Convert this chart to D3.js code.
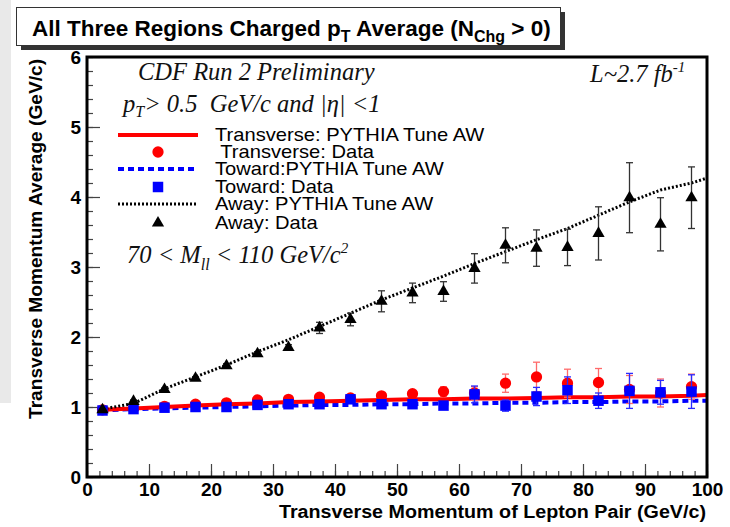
<!DOCTYPE html>
<html>
<head>
<meta charset="utf-8">
<script src="https://cdn.jsdelivr.net/npm/d3@7"></script>
<style>
    body { margin: 0; background: #fff; }
    svg { display: block; font-family: "Liberation Sans", Arial, sans-serif; }
    .axis path.domain { display: none; }
    .axis .tick line { stroke: #444; stroke-width: 1.2; }
    .axis text { font-weight: bold; font-size: 19px; fill: #000; font-family: "Liberation Sans", Arial, sans-serif; }
    .ital { font-family: "Liberation Serif", "Times New Roman", serif; font-style: italic; font-size: 24.5px; fill: #111; white-space: pre; }
    .leg { font-size: 19px; fill: #000; white-space: pre; }
</style>
</head>
<body>
<svg id="graph" width="730" height="527"></svg>
<script>
// bin centres (GeV/c)
var ptBins = [2.5, 7.5, 12.5, 17.5, 22.5, 27.5, 32.5, 37.5, 42.5, 47.5,
    52.5, 57.5, 62.5, 67.5, 72.5, 77.5, 82.5, 87.5, 92.5, 97.5];

// data points
var transData = [0.96, 0.98, 1.01, 1.04, 1.06, 1.10, 1.11, 1.14, 1.13, 1.16,
    1.19, 1.22, 1.20, 1.34, 1.43, 1.34, 1.35, 1.25, 1.20, 1.29];
var transErr = [0.01, 0.01, 0.01, 0.015, 0.015, 0.02, 0.02, 0.025, 0.03, 0.035,
    0.04, 0.07, 0.09, 0.13, 0.21, 0.20, 0.20, 0.20, 0.20, 0.18];
var towardData = [0.95, 0.97, 0.99, 1.00, 1.00, 1.03, 1.04, 1.04, 1.11, 1.04,
    1.04, 1.02, 1.18, 1.02, 1.15, 1.24, 1.09, 1.23, 1.21, 1.22];
var towardErr = [0.01, 0.01, 0.01, 0.015, 0.015, 0.02, 0.02, 0.025, 0.03, 0.05,
    0.04, 0.04, 0.12, 0.08, 0.13, 0.19, 0.11, 0.25, 0.17, 0.24];
var awayData = [0.96, 1.08, 1.25, 1.41, 1.59, 1.76, 1.85, 2.13, 2.25, 2.51,
    2.63, 2.65, 2.98, 3.31, 3.27, 3.28, 3.48, 3.99, 3.61, 3.99];
var awayErr = [0.01, 0.02, 0.02, 0.02, 0.03, 0.03, 0.04, 0.08, 0.09, 0.15,
    0.14, 0.14, 0.21, 0.25, 0.26, 0.26, 0.38, 0.50, 0.38, 0.44];

// PYTHIA Tune AW curves
var modelX = [2.5, 7.5, 12.5, 17.5, 22.5, 27.5, 32.5, 37.5, 42.5, 47.5,
    52.5, 57.5, 62.5, 67.5, 72.5, 77.5, 82.5, 87.5, 92.5, 97.5, 100];
var transModel = [0.96, 0.98, 1.00, 1.02, 1.04, 1.05, 1.07, 1.08, 1.09, 1.10,
    1.11, 1.11, 1.12, 1.12, 1.13, 1.14, 1.14, 1.15, 1.15, 1.16, 1.17];
var towardModel = [0.95, 0.97, 0.98, 0.99, 1.00, 1.01, 1.02, 1.03, 1.03, 1.04,
    1.04, 1.05, 1.05, 1.06, 1.06, 1.07, 1.07, 1.08, 1.08, 1.09, 1.09];
var awayModel = [0.97, 1.05, 1.26, 1.43, 1.60, 1.79, 1.96, 2.15, 2.34, 2.53,
    2.70, 2.87, 3.05, 3.22, 3.39, 3.55, 3.74, 3.93, 4.10, 4.20, 4.27];

var xTicks = [0, 10, 20, 30, 40, 50, 60, 70, 80, 90, 100];
var yTicks = [0, 1, 2, 3, 4, 5, 6];

var legendLabels = ["Transverse: PYTHIA Tune AW", " Transverse: Data", "Toward:PYTHIA Tune AW",
    "Toward: Data", "Away: PYTHIA Tune AW", "Away: Data"];

var svg = d3.select("svg#graph");

var x = d3.scaleLinear().domain([0, 100]).range([87, 707]);
var y = d3.scaleLinear().domain([0, 6]).range([477, 57]);

// stretch a text to the width it has in the picture
function fitWidth(sel, w) {
    sel.attr("textLength", w).attr("lengthAdjust", "spacingAndGlyphs");
}

// grey strip at the left edge
svg.append("rect").attr("x", 0).attr("y", 0).attr("width", 11).attr("height", 403).attr("fill", "#e9e9e9");

// title box with shadow
svg.append("rect").attr("x", 21).attr("y", 12).attr("width", 544).attr("height", 38).attr("fill", "#333");
svg.append("rect").attr("x", 16.5).attr("y", 7.5).attr("width", 544).attr("height", 38)
    .attr("fill", "#fff").attr("stroke", "#333").attr("stroke-width", 1);
var title = svg.append("text").attr("x", 32).attr("y", 36)
    .style("font-weight", "bold").style("font-size", "22.5px");
title.append("tspan").text("All Three Regions Charged p");
title.append("tspan").attr("dy", 6).style("font-size", "16px").text("T");
title.append("tspan").attr("dy", -6).text(" Average (N");
title.append("tspan").attr("dy", 6).style("font-size", "16px").text("Chg");
title.append("tspan").attr("dy", -6).text(" > 0)");

// axes: major + minor ticks, inside the frame
svg.append("g").attr("class", "x axis")
    .attr("transform", "translate(0," + y(0) + ")")
    .call(d3.axisBottom(x).tickValues(xTicks).tickSize(-13).tickPadding(6));
svg.append("g").attr("class", "x axis minor")
    .attr("transform", "translate(0," + y(0) + ")")
    .call(d3.axisBottom(x).tickValues(d3.range(0, 101, 2)).tickSize(-6).tickFormat(""));
svg.append("g").attr("class", "y axis")
    .attr("transform", "translate(" + x(0) + ",0)")
    .call(d3.axisLeft(y).tickValues(yTicks).tickFormat(d3.format("d")).tickSize(-13).tickPadding(6));
svg.append("g").attr("class", "y axis minor")
    .attr("transform", "translate(" + x(0) + ",0)")
    .call(d3.axisLeft(y).tickValues(d3.range(0, 6.01, 0.2)).tickSize(-6).tickFormat(""));

// axis titles
svg.append("text").attr("x", 706).attr("y", 518).attr("text-anchor", "end")
    .style("font-weight", "bold").style("font-size", "18px")
    .text("Transverse Momentum of Lepton Pair (GeV/c)")
    .call(fitWidth, 427);
svg.append("text").attr("transform", "translate(42,59) rotate(-90)").attr("text-anchor", "end")
    .style("font-weight", "bold").style("font-size", "18px")
    .text("Transverse Momentum Average (GeV/c)")
    .call(fitWidth, 360);

// model curves
function curve(vals) {
    return d3.line()
        .x(function (d, i) { return x(modelX[i]); })
        .y(function (d) { return y(d); })(vals);
}
svg.append("path").attr("d", curve(towardModel)).attr("fill", "none")
    .attr("stroke", "#0000ff").attr("stroke-width", 4).attr("stroke-dasharray", "6,4");
svg.append("path").attr("d", curve(transModel)).attr("fill", "none")
    .attr("stroke", "#ff0000").attr("stroke-width", 4);
svg.append("path").attr("d", curve(awayModel)).attr("fill", "none")
    .attr("stroke", "#000").attr("stroke-width", 3).attr("stroke-dasharray", "2,2");

// data points with error bars
function points(vals, errs, errColor, symbol, size, color, cap) {
    var g = svg.append("g");
    var pts = g.selectAll("g").data(vals).enter().append("g");
    pts.append("line")
        .attr("x1", function (d, i) { return x(ptBins[i]); })
        .attr("x2", function (d, i) { return x(ptBins[i]); })
        .attr("y1", function (d, i) { return y(d - errs[i]); })
        .attr("y2", function (d, i) { return y(d + errs[i]); })
        .attr("stroke", errColor).attr("stroke-width", 1.3);
    [-1, 1].forEach(function (s) {
        pts.append("line")
            .attr("x1", function (d, i) { return x(ptBins[i]) - cap; })
            .attr("x2", function (d, i) { return x(ptBins[i]) + cap; })
            .attr("y1", function (d, i) { return y(d + s * errs[i]); })
            .attr("y2", function (d, i) { return y(d + s * errs[i]); })
            .attr("stroke", errColor).attr("stroke-width", 1.3);
    });
    pts.append("path")
        .attr("d", d3.symbol().type(symbol).size(size))
        .attr("transform", function (d, i) { return "translate(" + x(ptBins[i]) + "," + y(d) + ")"; })
        .attr("fill", color);
}
points(transData, transErr, "#ff6a6a", d3.symbolCircle, 100, "#ff0000", 3.5);
points(towardData, towardErr, "#2a2aff", d3.symbolSquare, 110, "#0000ff", 3.5);
points(awayData, awayErr, "#333", d3.symbolTriangle, 65, "#000", 3.5);

// frame
svg.append("rect").attr("x", x(0)).attr("y", y(6)).attr("width", x(100) - x(0)).attr("height", y(0) - y(6))
    .attr("fill", "none").attr("stroke", "#000").attr("stroke-width", 3);

// labels inside the plot
svg.append("text").attr("class", "ital").attr("x", 138).attr("y", 80).text("CDF Run 2 Preliminary");
var t2 = svg.append("text").attr("class", "ital").attr("x", 123).attr("y", 112);
t2.append("tspan").text("p");
t2.append("tspan").attr("dy", 5).style("font-size", "16px").text("T");
t2.append("tspan").attr("dy", -5).text("> 0.5  GeV/c and |η| <1");
var t3 = svg.append("text").attr("class", "ital").attr("x", 127).attr("y", 263);
t3.append("tspan").text("70 < M");
t3.append("tspan").attr("dy", 7).style("font-size", "16px").text("ll");
t3.append("tspan").attr("dy", -7).text(" < 110 GeV/c");
t3.append("tspan").attr("dy", -10).style("font-size", "15px").text("2");
var t4 = svg.append("text").attr("class", "ital").attr("x", 590).attr("y", 82);
t4.append("tspan").text("L~2.7 fb");
t4.append("tspan").attr("dy", -10).style("font-size", "15px").text("-1");

// legend
var legY = [135, 152, 169, 187, 204, 223];
svg.append("line").attr("x1", 118).attr("x2", 198).attr("y1", legY[0]).attr("y2", legY[0])
    .attr("stroke", "#ff0000").attr("stroke-width", 4);
svg.append("path").attr("d", d3.symbol().type(d3.symbolCircle).size(100)())
    .attr("transform", "translate(158," + legY[1] + ")").attr("fill", "#ff0000");
svg.append("line").attr("x1", 118).attr("x2", 198).attr("y1", legY[2]).attr("y2", legY[2])
    .attr("stroke", "#0000ff").attr("stroke-width", 4).attr("stroke-dasharray", "6,4");
svg.append("path").attr("d", d3.symbol().type(d3.symbolSquare).size(110)())
    .attr("transform", "translate(158," + legY[3] + ")").attr("fill", "#0000ff");
svg.append("line").attr("x1", 118).attr("x2", 198).attr("y1", legY[4]).attr("y2", legY[4])
    .attr("stroke", "#000").attr("stroke-width", 3).attr("stroke-dasharray", "2,2");
svg.append("path").attr("d", d3.symbol().type(d3.symbolTriangle).size(65)())
    .attr("transform", "translate(158," + legY[5] + ")").attr("fill", "#000");
svg.selectAll("text.leg").data(legendLabels).enter().append("text")
    .attr("class", "leg").attr("x", 215)
    .attr("y", function (d, i) { return legY[i] + 6; })
    .text(function (d) { return d; })
    .each(function () {
        // the picture's legend lettering runs a little wider than Liberation Sans
        d3.select(this).call(fitWidth, this.getComputedTextLength() * 1.06);
    });
</script>
</body>
</html>
